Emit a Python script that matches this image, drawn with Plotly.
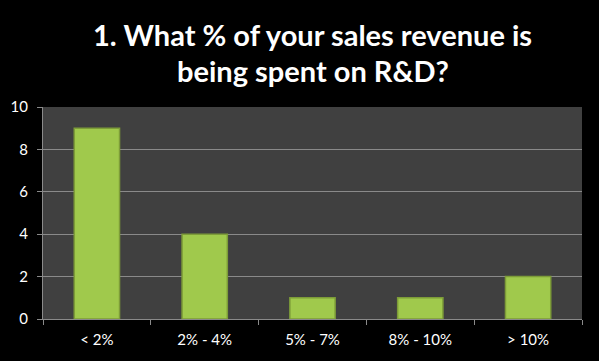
import plotly.graph_objects as go

categories = ["< 2%", "2% - 4%", "5% - 7%", "8% - 10%", "> 10%"]
counts = [9, 4, 1, 1, 2]
y_ticks = [0, 2, 4, 6, 8, 10]
title_lines = ["1. What % of your sales revenue is", "being spent on R&amp;D?"]

fig = go.Figure()
fig.add_trace(go.Bar(
    x=categories, y=counts,
    width=0.42,
    marker=dict(color="#a0c94c", line=dict(color="#7d9c38", width=1.5)),
))

PLOT_TOP, PLOT_BOTTOM = 107, 319
def paper_y(py):
    return (PLOT_BOTTOM - py) / (PLOT_BOTTOM - PLOT_TOP)

for line, py in zip(title_lines, [34, 70]):
    fig.add_annotation(
        text="<b>" + line + "</b>", x=0.5, xref="paper", y=paper_y(py), yref="paper",
        xanchor="center", yanchor="middle", showarrow=False,
        font=dict(family="Lato, Open Sans, sans-serif", size=29, color="white"),
    )

fig.update_layout(
    width=599, height=361,
    paper_bgcolor="#000000",
    plot_bgcolor="#404040",
    margin=dict(l=43, r=17, t=PLOT_TOP, b=361 - PLOT_BOTTOM),
    showlegend=False,
)
tickfont = dict(family="Lato, Open Sans, sans-serif", size=15, color="white")
fig.update_xaxes(
    showgrid=False,
    ticks="outside", ticklen=5, tickcolor="#8a8a8a",
    tickson="boundaries",
    showline=True, linecolor="#8a8a8a",
    tickfont=tickfont,
    ticklabelstandoff=7,
)
fig.update_yaxes(
    range=[0, 10], tickvals=y_ticks,
    showgrid=True, gridcolor="#8a8a8a", gridwidth=1,
    ticks="outside", ticklen=5, tickcolor="#8a8a8a",
    showline=True, linecolor="#8a8a8a",
    zeroline=False,
    tickfont=tickfont,
    ticklabelstandoff=6,
)

fig.write_html("out.html", config={"displayModeBar": False},
               post_script="document.body.style.margin='0';")
